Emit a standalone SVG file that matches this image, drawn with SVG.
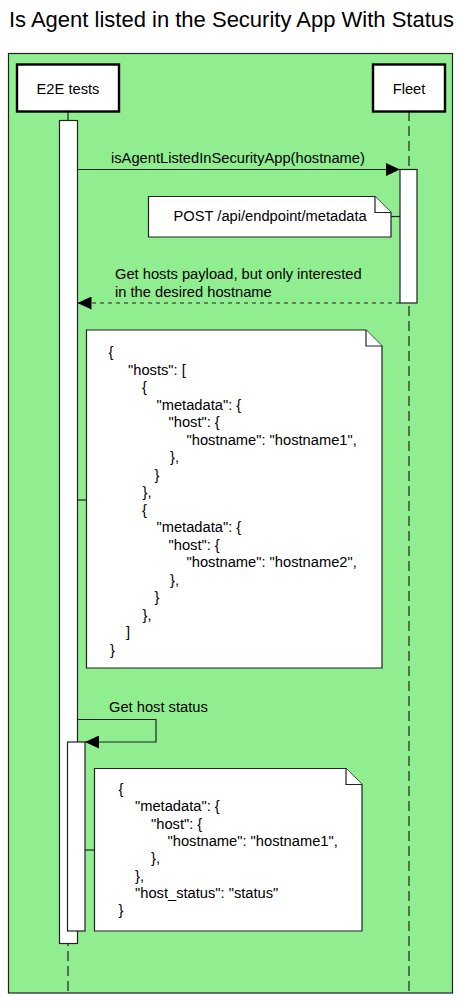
<svg xmlns="http://www.w3.org/2000/svg" width="461" height="1002" viewBox="0 0 461 1002">
<style>
text{font-family:"Liberation Sans",Arial,Helvetica,sans-serif;fill:#000;}
.t{font-size:14.7px;}
.title{font-size:22px;}
.part{fill:#fff;stroke:#000;stroke-width:2.4;}
.act{fill:#fff;stroke:#222;stroke-width:1.2;}
.note{fill:#fff;stroke:#222;stroke-width:1.2;}
.life{fill:none;stroke:#222;stroke-width:1.2;stroke-dasharray:10 5;}
.msg{fill:none;stroke:#222;stroke-width:1.2;}
.ret{fill:none;stroke:#222;stroke-width:1.2;stroke-dasharray:4 4;}
</style>
<defs>
<marker id="arr" viewBox="0 0 14 13" refX="14" refY="6.5" markerWidth="14" markerHeight="13" markerUnits="userSpaceOnUse" orient="auto">
<path d="M0,0 L14,6.5 L0,13 Z" fill="#000"/>
</marker>
</defs>
<rect width="461" height="1002" fill="#fff"/>
<text class="title" x="231.5" y="27" text-anchor="middle">Is Agent listed in the Security App With Status</text>
<g id="frame">
<rect x="8.5" y="53.5" width="444" height="939.5" fill="#90EE90" stroke="#222" stroke-width="1.2"/>
</g>
<g id="lifelines">
<line class="life" x1="68" y1="111" x2="68" y2="993"/>
<line class="life" x1="409" y1="111" x2="409" y2="993"/>
</g>
<g id="e2e">
<rect class="part" x="17" y="64.5" width="102" height="47"/>
<text class="t" x="68" y="94" text-anchor="middle">E2E tests</text>
</g>
<g id="fleet">
<rect class="part" x="373" y="64.5" width="72" height="47"/>
<text class="t" x="409" y="94" text-anchor="middle">Fleet</text>
</g>
<g id="e2e-activation">
<rect class="act" x="59.5" y="120.5" width="18" height="823"/>
</g>
<g id="fleet-activation">
<rect class="act" x="400" y="169.5" width="17" height="133.5"/>
</g>
<g id="e2e-activation-2">
<rect class="act" x="67.5" y="742" width="17.5" height="189"/>
</g>
<g id="note-post">
<path class="note" d="M148.5,196.5 H375 L391,212.5 V237 H148.5 Z"/>
<path class="note" d="M375,196.5 V212.5 H391"/>
<text class="t" x="173.5" y="221">POST /api/endpoint/metadata</text>
</g>
<g id="note-hosts">
<path class="note" d="M86.5,330 H366 L382,346 V668 H86.5 Z"/>
<path class="note" d="M366,330 V346 H382"/>
<text class="t" x="108.5" y="357">{</text>
<text class="t" x="128" y="374.5">"hosts": [</text>
<text class="t" x="142" y="392">{</text>
<text class="t" x="156.5" y="409.5">"metadata": {</text>
<text class="t" x="168.5" y="427">"host": {</text>
<text class="t" x="186.5" y="444.5">"hostname": "hostname1",</text>
<text class="t" x="170" y="462">},</text>
<text class="t" x="154.5" y="479.5">}</text>
<text class="t" x="142.5" y="497">},</text>
<text class="t" x="142" y="514.5">{</text>
<text class="t" x="156.5" y="532">"metadata": {</text>
<text class="t" x="168.5" y="549.5">"host": {</text>
<text class="t" x="186.5" y="567">"hostname": "hostname2",</text>
<text class="t" x="170" y="584.5">},</text>
<text class="t" x="154.5" y="602">}</text>
<text class="t" x="142.5" y="619.5">},</text>
<text class="t" x="126" y="637">]</text>
<text class="t" x="110" y="654.5">}</text>
</g>
<g id="note-status">
<path class="note" d="M94.5,768.5 H346 L362,784.5 V931 H94.5 Z"/>
<path class="note" d="M346,768.5 V784.5 H362"/>
<text class="t" x="118.5" y="794">{</text>
<text class="t" x="135" y="811.3">"metadata": {</text>
<text class="t" x="151" y="828.6">"host": {</text>
<text class="t" x="167.5" y="845.9">"hostname": "hostname1",</text>
<text class="t" x="151" y="863.2">},</text>
<text class="t" x="135" y="880.5">},</text>
<text class="t" x="135" y="897.8">"host_status": "status"</text>
<text class="t" x="118.5" y="915.1">}</text>
</g>
<g id="connectors">
<line class="msg" x1="77.5" y1="169.5" x2="400" y2="169.5" marker-end="url(#arr)"/>
<text class="t" x="111" y="163">isAgentListedInSecurityApp(hostname)</text>
<line class="msg" x1="391" y1="216.5" x2="400" y2="216.5"/>
<line class="ret" x1="400" y1="303" x2="77.5" y2="303" marker-end="url(#arr)"/>
<text class="t" x="115" y="279">Get hosts payload, but only interested</text>
<text class="t" x="115" y="297">in the desired hostname</text>
<line class="msg" x1="77.5" y1="500" x2="86.5" y2="500"/>
<path class="msg" d="M77.5,719.5 H156 V742 H85" marker-end="url(#arr)"/>
<text class="t" x="109" y="712">Get host status</text>
<line class="msg" x1="85" y1="850" x2="94.5" y2="850"/>
</g>
</svg>
